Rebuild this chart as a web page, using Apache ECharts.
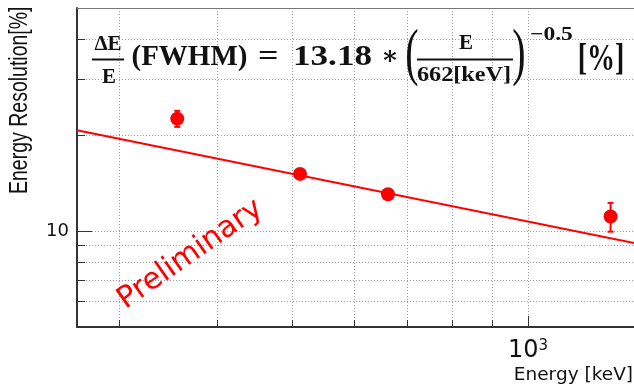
<!DOCTYPE html>
<html><head><meta charset="utf-8">
<script src="https://cdn.jsdelivr.net/npm/echarts@6/dist/echarts.min.js"></script>
<style>html,body{margin:0;padding:0;background:#fff}#c{width:634px;height:388px}</style>
</head><body><div id="c"></div>
<script>
// ---- data ----
const energies = [356, 511, 662, 1275];          // keV
const resolution = [22.5, 15.1, 13.03, 11.1];    // %
const resolutionErr = [1.3, 0.3, 0.3, 1.15];     // %
const fitEnergy = [265, 1366];                   // fit line end points (keV)
const fitResolution = [20.7, 9.17];              // fit line end points (%)
const xGridTicks = [300, 400, 500, 600, 700, 800, 900, 1000];
const xMajorTicks = [1000];
const yGridTicks = [6, 7, 8, 9, 10, 20, 30, 40];
const yMajorTicks = [10];
const xRange = [265, 1366];
const yRange = [5, 50];
const xTitle = 'Energy [keV]';
const yTitle = 'Energy Resolution[%]';
const watermark = 'Preliminary';

const points = energies.map((e, i) => [e, resolution[i], resolutionErr[i]]);
const fitLine = fitEnergy.map((e, i) => [e, fitResolution[i]]);

const chart = echarts.init(document.getElementById('c'), null, {renderer: 'canvas'});
const gridStyle = {show: true, lineStyle: {color: '#9a9a9a', width: 1, type: [1, 2]}};
const axisLine = {show: true, onZero: false, lineStyle: {color: '#333', width: 2}};
const baseX = {type: 'log', logBase: 10, min: xRange[0], max: xRange[1], gridIndex: 0, position: 'bottom'};
const baseY = {type: 'log', logBase: 10, min: yRange[0], max: yRange[1], gridIndex: 0, position: 'left'};

function T(text, x, y, size, o) {
  o = o || {};
  const st = Object.assign({text, fontFamily: 'Liberation Serif', fontWeight: 'bold', fontSize: size,
    fill: '#111', align: 'left', verticalAlign: 'middle'}, o.style || {});
  const el = {type: 'text', x, y, z: 100, style: st};
  if (o.scaleX) el.scaleX = o.scaleX;
  if (o.scaleY) el.scaleY = o.scaleY;
  return el;
}

const option = {
  animation: false,
  backgroundColor: '#fff',
  grid: {left: 77, top: 8, right: 0, bottom: 61, containLabel: false},
  xAxis: [
    Object.assign({}, baseX, {
      axisLine,
      axisTick: {show: true, inside: true, length: 11, customValues: xMajorTicks, lineStyle: {color: '#333', width: 1}},
      axisLabel: {show: true, customValues: xMajorTicks, margin: 12,
        formatter: () => '{a|10}{b|3}',
        rich: {a: {fontFamily: 'DejaVu Sans', fontSize: 24, color: '#111'},
               b: {fontFamily: 'DejaVu Sans', fontSize: 15, color: '#111', verticalAlign: 'top'}}},
      splitLine: {show: false}
    }),
    Object.assign({}, baseX, {
      axisLine: {show: false},
      axisTick: {show: true, inside: true, length: 7, customValues: xGridTicks, lineStyle: {color: '#333', width: 1}},
      axisLabel: {show: false},
      splitLine: gridStyle
    }),
    Object.assign({}, baseX, {
      position: 'top',
      axisLine: {show: true, onZero: false, lineStyle: {color: '#777', width: 1}},
      axisTick: {show: false}, axisLabel: {show: false}, splitLine: {show: false}
    })
  ],
  yAxis: [
    Object.assign({}, baseY, {
      axisLine,
      axisTick: {show: true, inside: true, length: 15, customValues: yMajorTicks, lineStyle: {color: '#333', width: 1}},
      axisLabel: {show: true, customValues: yMajorTicks, margin: 8,
        fontFamily: 'DejaVu Sans', fontSize: 18, color: '#111', formatter: v => String(Math.round(v))},
      splitLine: {show: false}
    }),
    Object.assign({}, baseY, {
      axisLine: {show: false},
      axisTick: {show: true, inside: true, length: 8, customValues: yGridTicks, lineStyle: {color: '#333', width: 1}},
      axisLabel: {show: false},
      splitLine: gridStyle
    })
  ],
  series: [
    {
      type: 'line', xAxisIndex: 0, yAxisIndex: 0, data: fitLine, showSymbol: false, symbol: 'none',
      lineStyle: {color: '#ff0000', width: 2}, z: 3
    },
    {
      type: 'custom', xAxisIndex: 0, yAxisIndex: 0, data: points, z: 4,
      renderItem: (params, api) => {
        const x = api.value(0), y = api.value(1), e = api.value(2);
        const t = api.coord([x, y + e]), b = api.coord([x, y - e]);
        const st = {stroke: '#ff0000', lineWidth: 2};
        return {type: 'group', children: [
          {type: 'line', shape: {x1: t[0], y1: t[1], x2: b[0], y2: b[1]}, style: st},
          {type: 'line', shape: {x1: t[0] - 3, y1: t[1], x2: t[0] + 3, y2: t[1]}, style: st},
          {type: 'line', shape: {x1: b[0] - 3, y1: b[1], x2: b[0] + 3, y2: b[1]}, style: st}
        ]};
      }
    },
    {
      type: 'scatter', xAxisIndex: 0, yAxisIndex: 0, data: points.map(p => [p[0], p[1]]),
      symbol: 'circle', symbolSize: 14, itemStyle: {color: '#ff0000', opacity: 1}, z: 5
    }
  ],
  graphic: [
    // axis titles
    {type: 'text', x: 33, y: 194, rotation: Math.PI / 2, scaleY: 1.3, z: 100,
      style: {text: yTitle, fontFamily: 'Liberation Sans', fontSize: 19.5, fill: '#111', align: 'left', verticalAlign: 'bottom'}},
    {type: 'text', x: 633, y: 375, z: 100,
      style: {text: xTitle, fontFamily: 'DejaVu Sans', fontSize: 18.5, fill: '#111', align: 'right', verticalAlign: 'middle'}},
    // watermark
    {type: 'text', x: 121, y: 303, rotation: 35 * Math.PI / 180, z: 100,
      style: {text: watermark, fontFamily: 'DejaVu Sans', fontSize: 30, fill: '#ff0000', align: 'left', verticalAlign: 'middle'}},
    // formula
    T('\u0394E', 108, 45, 21, {style: {align: 'center'}}),
    {type: 'line', z: 100, shape: {x1: 92, y1: 59.5, x2: 124, y2: 59.5}, style: {stroke: '#111', lineWidth: 2}},
    T('E', 109, 77.5, 21, {style: {align: 'center'}}),
    T('(FWHM)', 131.5, 57.5, 29),
    T('=', 258, 57.5, 30, {scaleX: 1.2}),
    T('13.18', 293, 57.5, 30, {scaleX: 1.17}),
    T('\u2217', 390, 57, 26, {style: {align: 'center', fontFamily: 'DejaVu Serif'}}),
    T('(', 412, 56, 40, {scaleY: 1.6, style: {align: 'center', fontWeight: 'normal'}}),
    T('E', 466, 44, 21, {style: {align: 'center'}}),
    {type: 'line', z: 100, shape: {x1: 417, y1: 59.5, x2: 513, y2: 59.5}, style: {stroke: '#111', lineWidth: 2}},
    T('662[keV]', 464, 75, 22, {scaleX: 1.1, style: {align: 'center'}}),
    T(')', 519, 56, 40, {scaleY: 1.6, style: {align: 'center', fontWeight: 'normal'}}),
    T('\u22120.5', 530, 35, 19, {scaleX: 1.24}),
    T('[%]', 601, 60, 28, {scaleY: 1.35, style: {align: 'center'}})
  ]
};
chart.setOption(option);
</script>
</body></html>
